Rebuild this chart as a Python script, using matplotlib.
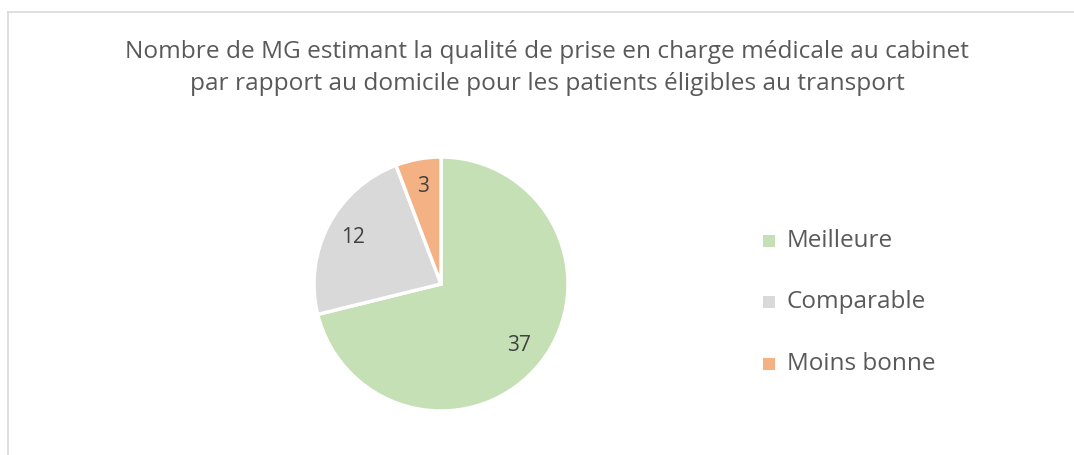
import matplotlib.pyplot as plt
from matplotlib.patches import Rectangle
from matplotlib.lines import Line2D

categories = ['Meilleure', 'Comparable', 'Moins bonne']
values = [37, 12, 3]
colors = ['#C5E0B4', '#D9D9D9', '#F4B183']
title = ("Nombre de MG estimant la qualité de prise en charge médicale au cabinet\n"
         "par rapport au domicile pour les patients éligibles au transport")

plt.rcParams['font.family'] = ['Open Sans', 'DejaVu Sans']
txt_color = '#595959'

W, H = 1074, 455
fig = plt.figure(figsize=(W / 100, H / 100), dpi=100)

# chart frame (left and top visible, rest cut off)
fig.add_artist(Line2D([8 / W, 8 / W], [0, 1 - 12 / H], color='#D9D9D9', lw=1.2))
fig.add_artist(Line2D([8 / W, 1], [1 - 12 / H, 1 - 12 / H], color='#D9D9D9', lw=1.2))

fig.text(547 / W, 1 - 68 / H, title, ha='center', va='center', fontsize=17.6,
         color=txt_color, linespacing=1.5)

cx, cy, r = 441, 284, 127
ax = fig.add_axes([(cx - r) / W, 1 - (cy + r) / H, 2 * r / W, 2 * r / H])
wedges, _, autotexts = ax.pie(values, colors=colors, startangle=90, counterclock=False,
                              autopct=lambda p: '%d' % round(p * sum(values) / 100),
                              pctdistance=0.78, radius=1,
                              wedgeprops=dict(edgecolor='white', linewidth=2.5))
for t in autotexts:
    t.set_color('#404040')
    t.set_fontsize(15)
ax.set_xlim(-1, 1)
ax.set_ylim(-1, 1)
ax.set_aspect('equal')
ax.axis('off')

# legend
ys = [241, 302, 364]
for cat, col, y in zip(categories, colors, ys):
    fig.add_artist(Rectangle(((769 - 6) / W, 1 - (y + 6) / H), 12 / W, 12 / H,
                             facecolor=col, edgecolor='none'))
    fig.text(787 / W, 1 - y / H, cat, ha='left', va='center', fontsize=17.5,
             color=txt_color)

plt.savefig('out.png', dpi=100)
